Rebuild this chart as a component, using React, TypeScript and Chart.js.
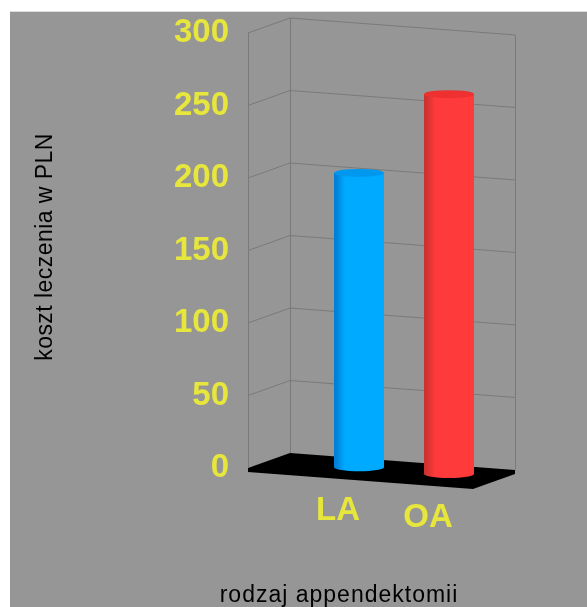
import { useEffect, useRef } from "react";
import { Chart, registerables } from "chart.js";

Chart.register(...registerables);

// Treatment cost by appendectomy type
const categories = ["LA", "OA"];
const costs = [203, 262];
const categorySlots = [1, 2];
const bodyColors = ["#00aaff", "#ff3a3a"];
const sideColors = ["#0080d8", "#cc3232"];
const capColors = ["#0098ee", "#ee3030"];
const yAxisTitle = "koszt leczenia w PLN";
const xAxisTitle = "rodzaj appendektomii";

const YELLOW = "#e6e63c";
const PANEL = "#969696";
const GRID = "#7a7a7a";
const FONT = "'Liberation Sans', Arial, sans-serif";

// Oblique projection of the box: depth vector and the slope of the front edge
const DEPTH_X = 42;
const DEPTH_Y = -15;
const SLOPE = 17 / 226;
const CAP_RY = 4;

const cylinderPlugin = {
  id: "cylinder3d",
  beforeDraw(chart: any) {
    const { ctx, width, height, chartArea, scales } = chart;
    const { left, right, bottom } = chartArea;
    const y = scales.y;
    const rise = (right - left) * SLOPE;

    ctx.save();
    ctx.fillStyle = "#ffffff";
    ctx.fillRect(0, 0, width, height);
    ctx.fillStyle = "#dcdcdc";
    ctx.fillRect(10, 11, width - 10, 1);
    ctx.fillStyle = PANEL;
    ctx.fillRect(10, 12, width - 10, height - 12);

    // Floor slab
    ctx.fillStyle = "#000000";
    ctx.beginPath();
    ctx.moveTo(left, bottom);
    ctx.lineTo(left + DEPTH_X, bottom + DEPTH_Y);
    ctx.lineTo(right + DEPTH_X, bottom + rise + DEPTH_Y);
    ctx.lineTo(right + DEPTH_X, bottom + rise + DEPTH_Y + 4);
    ctx.lineTo(right, bottom + rise + 4);
    ctx.lineTo(left, bottom + 4);
    ctx.closePath();
    ctx.fill();

    // Side and back walls
    ctx.strokeStyle = GRID;
    ctx.lineWidth = 1;
    const top = y.getPixelForValue(y.max);
    const drawSeg = (x1: number, y1: number, x2: number, y2: number) => {
      ctx.beginPath();
      ctx.moveTo(x1, y1);
      ctx.lineTo(x2, y2);
      ctx.stroke();
    };
    drawSeg(left + 0.5, top, left + 0.5, bottom);
    drawSeg(left + DEPTH_X + 0.5, top + DEPTH_Y, left + DEPTH_X + 0.5, bottom + DEPTH_Y);
    drawSeg(right + DEPTH_X + 0.5, top + rise + DEPTH_Y, right + DEPTH_X + 0.5, bottom + rise + DEPTH_Y);
    y.ticks.forEach((tick: any) => {
      if (tick.value === 0) return;
      const py = y.getPixelForValue(tick.value);
      drawSeg(left, py, left + DEPTH_X, py + DEPTH_Y);
      drawSeg(left + DEPTH_X, py + DEPTH_Y, right + DEPTH_X, py + rise + DEPTH_Y);
    });
    ctx.restore();
  },
  beforeDatasetDraw(chart: any, args: any) {
    const { ctx, chartArea } = chart;
    const meta = chart.getDatasetMeta(args.index);
    meta.data.forEach((bar: any, i: number) => {
      const shift = DEPTH_Y / 2 + (bar.x - chartArea.left) * SLOPE;
      const cx = bar.x + DEPTH_X / 2;
      const rx = bar.width / 2;
      const topY = bar.y + shift;
      const baseY = bar.base + shift;

      const shade = ctx.createLinearGradient(cx - rx, 0, cx + rx, 0);
      shade.addColorStop(0, sideColors[i]);
      shade.addColorStop(0.04, sideColors[i]);
      shade.addColorStop(0.22, bodyColors[i]);
      shade.addColorStop(1, bodyColors[i]);

      ctx.save();
      ctx.fillStyle = shade;
      ctx.beginPath();
      ctx.moveTo(cx - rx, topY);
      ctx.lineTo(cx - rx, baseY);
      ctx.ellipse(cx, baseY, rx, CAP_RY, 0, Math.PI, 0, true);
      ctx.lineTo(cx + rx, topY);
      ctx.closePath();
      ctx.fill();

      ctx.fillStyle = capColors[i];
      ctx.beginPath();
      ctx.ellipse(cx, topY, rx, CAP_RY, 0, 0, Math.PI * 2);
      ctx.fill();
      ctx.restore();
    });
    return false;
  },
  afterDraw(chart: any) {
    const { ctx, chartArea, scales } = chart;

    ctx.save();
    // Category labels follow the slope of the floor edge
    ctx.fillStyle = YELLOW;
    ctx.font = `bold 33px ${FONT}`;
    ctx.textAlign = "center";
    ctx.textBaseline = "middle";
    categories.forEach((name, i) => {
      const px = scales.x.getPixelForValue(categorySlots[i]);
      ctx.fillText(name, px, 511 + (px - chartArea.left - 90) * SLOPE);
    });

    ctx.fillStyle = "#000000";
    ctx.font = `23px ${FONT}`;
    ctx.letterSpacing = "1px";
    ctx.fillText(xAxisTitle, 339, 596);
    ctx.letterSpacing = "0.45px";
    ctx.translate(46, 247);
    ctx.rotate(-Math.PI / 2);
    ctx.fillText(yAxisTitle, 0, 0);
    ctx.restore();
  },
};

export default function App() {
  const canvasRef = useRef<HTMLCanvasElement>(null);

  useEffect(() => {
    const chart = new Chart(canvasRef.current!, {
      type: "bar",
      data: {
        datasets: [
          {
            data: costs.map((cost, i) => ({ x: categorySlots[i], y: cost })),
            backgroundColor: bodyColors,
            barThickness: 50,
          },
        ],
      },
      options: {
        responsive: false,
        animation: false,
        events: [],
        layout: { padding: { top: 33, right: 114, bottom: 139, left: 0 } },
        plugins: { legend: { display: false }, tooltip: { enabled: false } },
        scales: {
          x: {
            type: "linear",
            min: 0,
            max: 2.5,
            offset: false,
            display: false,
          },
          y: {
            min: 0,
            max: 300,
            afterFit(scale: any) {
              scale.width = 248;
              scale.paddingTop = 0;
              scale.paddingBottom = 0;
            },
            grid: { display: false, drawTicks: false },
            border: { display: false },
            ticks: {
              stepSize: 50,
              padding: 19,
              color: YELLOW,
              font: { family: FONT, size: 33, weight: "bold" },
            },
          },
        },
      },
      plugins: [cylinderPlugin],
    } as any);
    return () => chart.destroy();
  }, []);

  return (
    <div style={{ position: "fixed", left: 0, top: 0, width: 587, height: 607 }}>
      <canvas ref={canvasRef} width={587} height={607} style={{ display: "block" }} />
    </div>
  );
}
